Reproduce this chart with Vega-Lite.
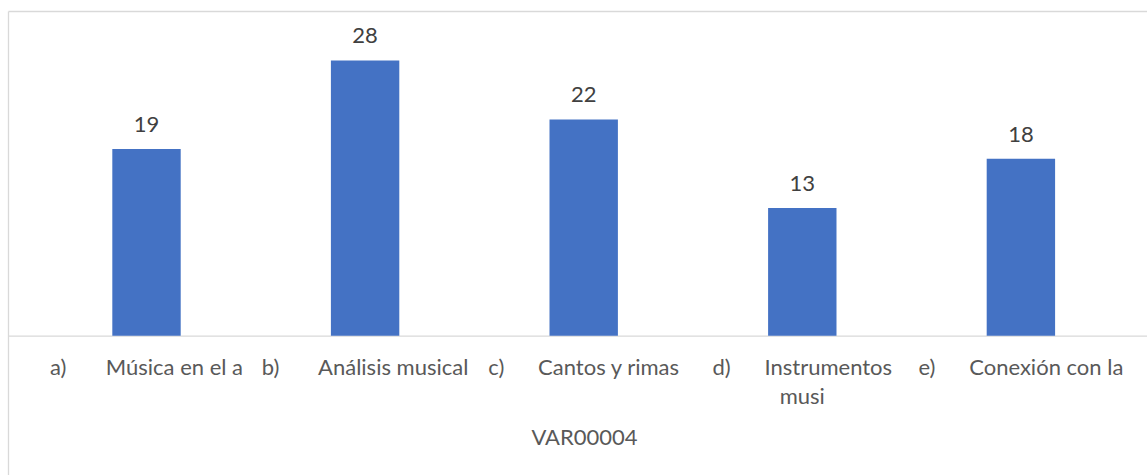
{
  "$schema": "https://vega.github.io/schema/vega-lite/v6.json",
  "autosize": {"type": "none"},
  "padding": {"left": 8, "top": 11, "right": 0, "bottom": 0},
  "width": 1139,
  "height": 464,
  "background": "white",
  "config": {"view": {"stroke": null}, "font": "Lato"},
  "data": {"values": [
    {"cat": "a)\u00a0\u00a0\u00a0\u00a0\u00a0\u00a0\u00a0Música en el a", "value": 19},
    {"cat": "b)\u00a0\u00a0\u00a0\u00a0\u00a0\u00a0\u00a0Análisis musical", "value": 28},
    {"cat": "c)\u00a0\u00a0\u00a0\u00a0\u00a0\u00a0Cantos y rimas", "value": 22},
    {"cat": "d)\u00a0\u00a0\u00a0\u00a0\u00a0\u00a0Instrumentos|musi", "value": 13},
    {"cat": "e)\u00a0\u00a0\u00a0\u00a0\u00a0\u00a0Conexión con la", "value": 18}
  ]},
  "encoding": {
    "y": {
      "field": "value", "type": "quantitative",
      "scale": {"domain": [-14.17, 33.03], "nice": false, "zero": false},
      "axis": {"domain": true, "domainColor": "#d9d9d9", "domainWidth": 1.3, "labels": false, "ticks": false, "grid": false, "title": null}
    }
  },
  "layer": [
    {
      "mark": {"type": "bar", "color": "#4472C4"},
      "encoding": {
        "x": {
          "field": "cat", "type": "nominal", "sort": null,
          "scale": {"paddingInner": 0.6871, "paddingOuter": 0.4488, "align": 0.5316},
          "axis": {
            "orient": "bottom",
            "title": "VAR00004", "labelAngle": 0, "ticks": false, "tickSize": 0,
            "domainColor": "#d9d9d9", "domainWidth": 1.3, "offset": -139.3,
            "labelFont": "Lato", "labelFontSize": 22, "labelColor": "#595959",
            "labelPadding": 21.3, "labelLimit": 0, "labelOverlap": false,
            "labelExpr": "split(datum.label, '|')", "labelLineHeight": 29,
            "titleFont": "Lato", "titleFontSize": 22, "titleColor": "#595959", "titleFontWeight": "normal",
            "titleBaseline": "alphabetic", "titleY": 108.3, "titleX": 576
          }
        },
        "y2": {"datum": 0}
      }
    },
    {
      "mark": {"type": "text", "baseline": "alphabetic", "dy": -17, "fontSize": 22, "color": "#404040", "font": "Lato"},
      "encoding": {
        "x": {
          "field": "cat", "type": "nominal", "sort": null,
          "scale": {"paddingInner": 0.6871, "paddingOuter": 0.4488, "align": 0.5316},
          "axis": {"orient": "top", "labels": false, "ticks": false, "title": null, "domainColor": "#d9d9d9", "domainWidth": 1.3}
        },
        "text": {"field": "value", "type": "quantitative"}
      }
    }
  ],
  "resolve": {"axis": {"x": "independent"}}
}
